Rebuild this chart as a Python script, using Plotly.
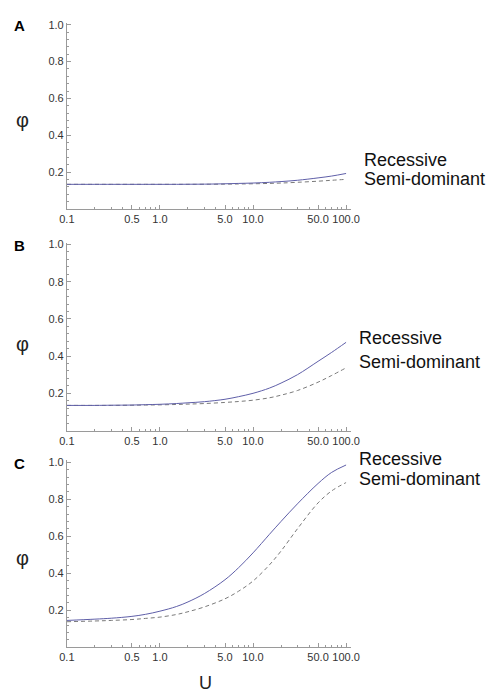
import plotly.graph_objects as go

# ---- data ----
u_vals = [0.1, 0.2, 0.3, 0.5, 0.7, 1, 1.5, 2, 3, 5, 7, 10, 15, 20, 30, 50, 70, 100]

a_recessive = [0.133, 0.133, 0.133, 0.133, 0.133, 0.133, 0.133, 0.1335, 0.134, 0.136, 0.138, 0.140, 0.144, 0.148, 0.155, 0.168, 0.178, 0.192]
a_semidom   = [0.133, 0.133, 0.133, 0.133, 0.133, 0.133, 0.133, 0.133, 0.1335, 0.134, 0.135, 0.136, 0.138, 0.140, 0.144, 0.150, 0.155, 0.160]

b_recessive = [0.135, 0.135, 0.136, 0.137, 0.139, 0.141, 0.145, 0.149, 0.155, 0.168, 0.182, 0.200, 0.228, 0.255, 0.300, 0.372, 0.420, 0.474]
b_semidom   = [0.135, 0.135, 0.135, 0.136, 0.137, 0.138, 0.140, 0.142, 0.145, 0.151, 0.156, 0.163, 0.176, 0.190, 0.215, 0.260, 0.296, 0.337]

c_recessive = [0.145, 0.152, 0.157, 0.167, 0.178, 0.195, 0.220, 0.245, 0.290, 0.365, 0.430, 0.510, 0.610, 0.680, 0.775, 0.885, 0.945, 0.985]
c_semidom   = [0.138, 0.142, 0.145, 0.150, 0.156, 0.163, 0.177, 0.192, 0.218, 0.262, 0.303, 0.358, 0.445, 0.520, 0.640, 0.780, 0.845, 0.890]

panels = ["A", "B", "C"]
series_names = ["Recessive", "Semi-dominant"]
x_major = [0.1, 0.5, 1, 5, 10, 50, 100]
x_major_text = ["0.1", "0.5", "1.0", "5.0", "10.0", "50.0", "100.0"]
x_minor = [0.2, 0.3, 0.4, 0.6, 0.7, 0.8, 0.9, 2, 3, 4, 6, 7, 8, 9, 20, 30, 40, 60, 70, 80, 90]
y_major = [0.2, 0.4, 0.6, 0.8, 1.0]
y_major_text = ["0.2", "0.4", "0.6", "0.8", "1.0"]
y_minor = [round(0.04 * i, 2) for i in range(1, 26) if round(0.04 * i, 2) not in y_major]

W, H = 492, 694
FONT = "Liberation Sans, Arial, Helvetica, sans-serif"
SOLID = "#5f5fa8"
DASH = "#7a7a7a"

# panel geometry in pixels (top, bottom of axes), x from left
x_left, x_right = 61, 355
panel_px = [(19, 206), (240, 429), (459, 647)]
label_px = [  # (Recessive y, Semi-dominant y, x)
    (157, 176, 367),
    (336, 360, 361),
    (458, 478, 361),
]
letter_y = [22, 243, 462]
phi_y = [117, 342, 557]

data = [(a_recessive, a_semidom), (b_recessive, b_semidom), (c_recessive, c_semidom)]

fig = go.Figure()
annotations = []
layout = dict(
    width=W, height=H,
    margin=dict(l=0, r=0, t=0, b=0),
    paper_bgcolor="white", plot_bgcolor="white",
    showlegend=False,
    font=dict(family=FONT, color="#333333", size=11),
)

for i, (rec, semi) in enumerate(data):
    n = "" if i == 0 else str(i + 1)
    xa, ya = "x" + n, "y" + n
    fig.add_trace(go.Scatter(x=u_vals, y=semi, mode="lines", name=series_names[1],
                             line=dict(color=DASH, width=1, dash="4px,3px", shape="spline", smoothing=1.0),
                             xaxis=xa, yaxis=ya))
    fig.add_trace(go.Scatter(x=u_vals, y=rec, mode="lines", name=series_names[0],
                             line=dict(color=SOLID, width=1, shape="spline", smoothing=1.0),
                             xaxis=xa, yaxis=ya))
    top, bot = panel_px[i]
    layout["xaxis" + n] = dict(
        type="log", range=[-1, 2.05],
        domain=[x_left / W, x_right / W],
        anchor=ya,
        showline=True, linecolor="#9a9a9a", linewidth=1,
        showgrid=False, zeroline=False,
        ticks="inside", ticklen=4, tickcolor="#9a9a9a",
        tickvals=x_major, ticktext=x_major_text,
        tickfont=dict(size=11, color="#333333"),
        minor=dict(tickvals=x_minor, ticks="inside", ticklen=2, tickcolor="#9a9a9a"),
    )
    layout["yaxis" + n] = dict(
        range=[0, 1.01],
        domain=[(H - bot) / H, (H - top) / H],
        anchor=xa,
        showline=True, linecolor="#9a9a9a", linewidth=1,
        showgrid=False, zeroline=False,
        ticks="inside", ticklen=4, tickcolor="#9a9a9a",
        tickvals=y_major, ticktext=y_major_text,
        tickfont=dict(size=11, color="#333333"),
        minor=dict(tickvals=y_minor, ticks="inside", ticklen=2, tickcolor="#9a9a9a"),
    )
    ry, sy, lx = label_px[i]
    annotations.append(dict(text=series_names[0], x=lx / W, y=(H - ry) / H, xref="paper", yref="paper",
                            xanchor="left", yanchor="middle", showarrow=False,
                            font=dict(size=18, color="#111111", family=FONT)))
    annotations.append(dict(text=series_names[1], x=lx / W, y=(H - sy) / H, xref="paper", yref="paper",
                            xanchor="left", yanchor="middle", showarrow=False,
                            font=dict(size=18, color="#111111", family=FONT)))
    annotations.append(dict(text="<b>" + panels[i] + "</b>", x=4 / W, y=(H - letter_y[i]) / H,
                            xref="paper", yref="paper", xanchor="left", yanchor="middle",
                            showarrow=False, font=dict(size=15, color="#000000", family=FONT)))
    annotations.append(dict(text="φ", x=15 / W, y=(H - phi_y[i]) / H, xref="paper", yref="paper",
                            xanchor="center", yanchor="middle", showarrow=False,
                            font=dict(size=20, color="#222222", family=FONT)))

annotations.append(dict(text="U", x=205 / W, y=(H - 671) / H, xref="paper", yref="paper",
                        xanchor="center", yanchor="top", showarrow=False,
                        font=dict(size=18, color="#222222", family=FONT)))

layout["annotations"] = annotations
fig.update_layout(**layout)
fig.write_html("out.html")
